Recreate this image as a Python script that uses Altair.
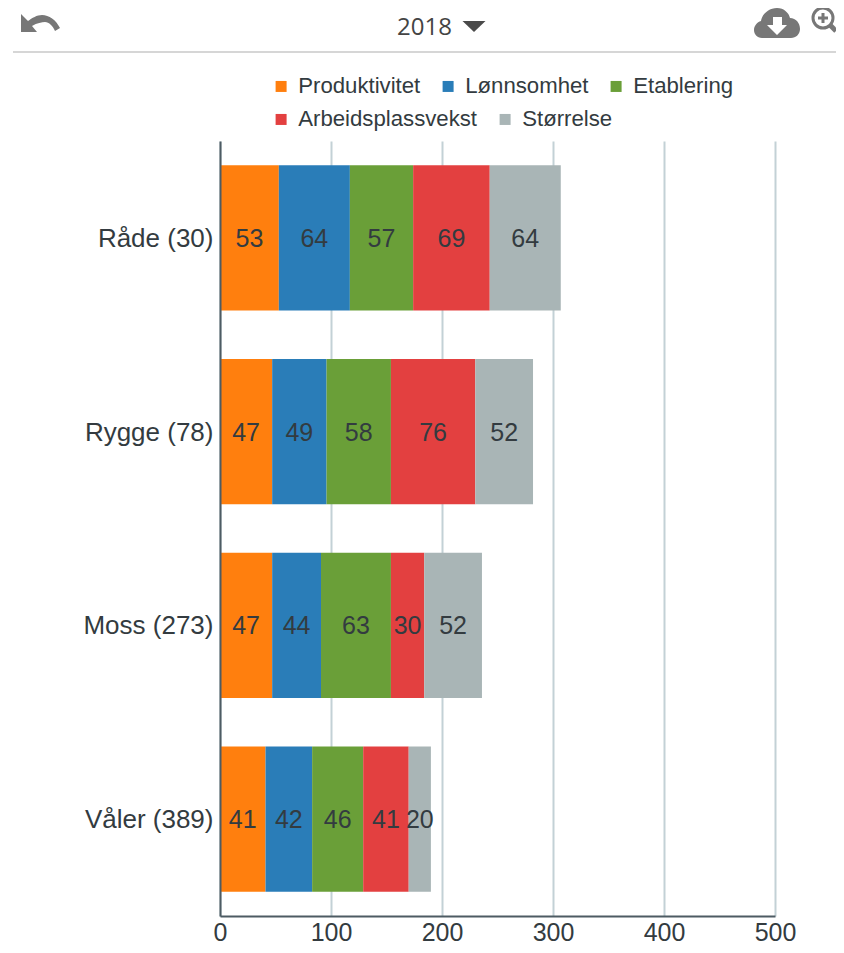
import altair as alt
import pandas as pd

YEAR = "2018"
PLACES = ["Råde (30)", "Rygge (78)", "Moss (273)", "Våler (389)"]
SERIES = ["Produktivitet", "Lønnsomhet", "Etablering", "Arbeidsplassvekst", "Størrelse"]
COLORS = ["#ff7f0e", "#2a7db8", "#6a9f38", "#e34040", "#a9b5b6"]
PRODUKTIVITET = [53, 47, 47, 41]
LONNSOMHET = [64, 49, 44, 42]
ETABLERING = [57, 58, 63, 46]
ARBEIDSPLASSVEKST = [69, 76, 30, 41]
STORRELSE = [64, 52, 52, 20]
X_TICKS = [0, 100, 200, 300, 400, 500]

ALL = [PRODUKTIVITET, LONNSOMHET, ETABLERING, ARBEIDSPLASSVEKST, STORRELSE]
rows = []
for si, (name, vals) in enumerate(zip(SERIES, ALL)):
    for place, v in zip(PLACES, vals):
        rows.append({"place": place, "series": name, "order": si, "value": v})
df = pd.DataFrame(rows)

FONT = "Liberation Sans"
TEXT = "#333b40"
LEFT, TOP = 212, 133
W, H = 555, 775


def px(v):  # page x to plot-area x
    return alt.value(v - LEFT - 8)


def py(v):  # page y to plot-area y
    return alt.value(v - TOP - 8)


base = alt.Chart(df).transform_stack(
    stack="value", groupby=["place"], sort=[alt.SortField("order")], as_=["x0", "x1"]
).transform_calculate(mid="(datum.x0 + datum.x1) / 2")

X = alt.X(
    "x0:Q",
    scale=alt.Scale(domain=[0, 500], nice=False),
    axis=alt.Axis(
        title=None, values=X_TICKS, grid=True, gridColor="#c3d1d6", gridWidth=2,
        domainColor="#4d5b63", domainWidth=2, ticks=False, labelFont=FONT,
        labelFontSize=25, labelColor=TEXT, labelPadding=4, labelOverlap=False,
        labelFlush=False,
    ),
)
Y = alt.Y(
    "place:N",
    sort=PLACES,
    scale=alt.Scale(paddingInner=0.25, paddingOuter=0.125),
    axis=alt.Axis(
        title=None, ticks=False, grid=False, domainColor="#4d5b63", domainWidth=2,
        labelFont=FONT, labelFontSize=26, labelColor=TEXT, labelPadding=7,
        labelOffset=1, zindex=1,
    ),
)


def bar_row(first, last, legend_y):
    names = SERIES[first:last]
    return base.transform_filter(
        alt.FieldOneOfPredicate(field="series", oneOf=names)
    ).mark_bar(strokeWidth=0).encode(
        x=X,
        x2="x1:Q",
        y=Y,
        color=alt.Color(
            "series:N",
            scale=alt.Scale(domain=names, range=COLORS[first:last]),
            legend=alt.Legend(
                title=None, orient="none", legendX=50, legendY=legend_y, columns=len(names),
                direction="horizontal", symbolType="square", symbolSize=121,
                symbolStrokeWidth=0, labelFont=FONT, labelFontSize=22.2, labelColor=TEXT,
                labelOffset=6, columnPadding=16, padding=0, labelLimit=300,
            ),
        ),
        order=alt.Order("order:Q"),
    )


bars1 = bar_row(0, 3, -66)
bars2 = bar_row(3, 5, -33)

labels = base.mark_text(font=FONT, fontSize=25, color=TEXT, dy=1).encode(
    x="mid:Q",
    y=alt.Y("place:N", sort=PLACES),
    text="value:Q",
)


def icon(path, x, y, **kw):
    return alt.Chart(pd.DataFrame({"i": [0]})).mark_point(
        shape=path, size=4, opacity=1, **kw
    ).encode(x=px(x), y=py(y))


GRAY = "#777777"
UNDO = ("M-19,-10 L-19,8 L-3,8 L-8,2 C-3,-1 2,-2 5,-2 C9,-2 13,2 15,7 L20,4 "
        "C16,-4 9,-9 2,-9 C-3,-9 -8,-6 -12,-3 Z")
CLOUD = ("M-15,14 C-20,14 -23,10 -23,6 C-23,2 -20,-2 -16,-3 C-15,-10 -8,-16 0,-16 "
         "C7,-16 12,-11 13,-6 C19,-6 23,-1 23,5 C23,10 19,14 14,14 Z")
ARROW = "M-4,-7 L5,-7 L5,1 L10,1 L0,11 L-10,1 L-4,1 Z"
TRI = "M-11.5,-5.5 L11.5,-5.5 L0,5.5 Z"
LENS = ("M-10,0 A10,10 0 1,1 10,0 A10,10 0 1,1 -10,0 Z M-5,0 L5,0 M0,-5 L0,5")

one = pd.DataFrame({"i": [0]})
sep = alt.Chart(one).mark_rule(color="#d6d6d6", strokeWidth=2).encode(
    x=px(13), x2=px(836), y=py(52)
)
handle = alt.Chart(one).mark_rule(color=GRAY, strokeWidth=5).encode(
    x=px(830), x2=px(836), y=py(25), y2=py(31)
)
year = alt.Chart(one).mark_text(
    font="Open Sans", fontSize=24, color="#444444", align="left", baseline="alphabetic"
).encode(x=px(397), y=py(35), text=alt.value(YEAR))

chart = alt.layer(
    bars1,
    bars2,
    labels,
    sep,
    year,
    icon(UNDO, 40, 24, filled=True, color=GRAY),
    icon(TRI, 474, 26.5, filled=True, color="#4a4a4a"),
    icon(CLOUD, 777, 24, filled=True, color=GRAY),
    icon(ARROW, 777, 24, filled=True, color="#ffffff"),
    icon(LENS, 823, 18, filled=False, color=GRAY, strokeWidth=3),
    handle,
).resolve_scale(color="independent").properties(
    width=W,
    height=H,
    background="#ffffff",
    autosize=alt.AutoSizeParams(type="none"),
    padding={"left": LEFT, "top": TOP, "right": 61, "bottom": 29},
).configure_view(stroke=None)

chart.save("out.html", embed_options={"renderer": "svg", "actions": False})
